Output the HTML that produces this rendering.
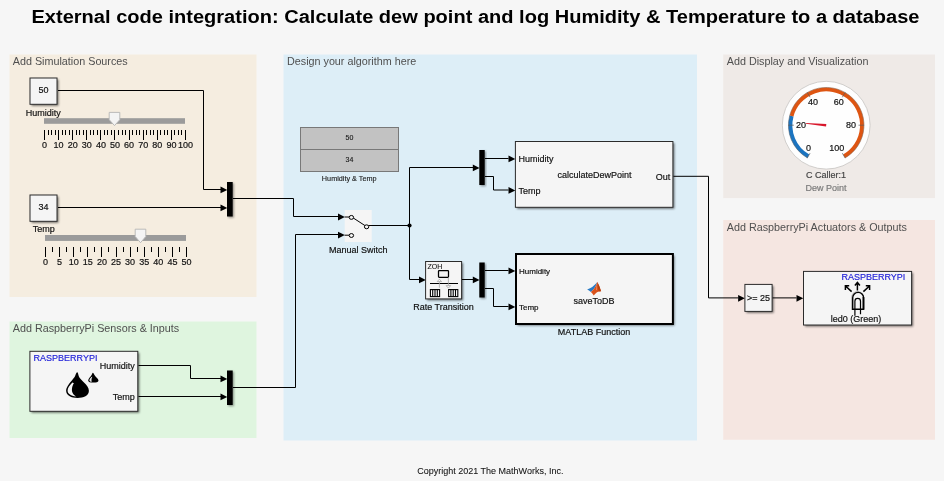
<!DOCTYPE html>
<html lang="en"><head><meta charset="utf-8"><title>External code integration</title>
<style>
html,body{margin:0;padding:0;background:#fff;}
body{width:944px;height:483px;overflow:hidden;position:relative;}
svg{position:absolute;left:0;top:0;display:block;will-change:transform;}
text{font-family:"Liberation Sans",sans-serif;}
.t9{font-size:9px;fill:#111;stroke:#111;stroke-width:0.18px;}
.t7{font-size:7px;fill:#1a1a1a;stroke:#1a1a1a;stroke-width:0.12px;}
.t8{font-size:8px;fill:#111;stroke:#111;stroke-width:0.18px;}
.area{font-size:10.78px;fill:#4f4f4f;}
.blue{font-size:9px;fill:#1c1cd8;stroke:#1c1cd8;stroke-width:0.15px;}
.ln{fill:none;stroke:#000;stroke-width:1;}
.blk{fill:#f5f5f5;stroke:#2b2b2b;stroke-width:1;}
</style></head><body>
<svg width="944" height="483" viewBox="0 0 944 483">
<defs>
<filter id="sh" x="-10%" y="-10%" width="130%" height="130%"><feGaussianBlur stdDeviation="0.9"/></filter>
</defs>
<rect x="0" y="0" width="944" height="481" fill="#f6f6f6"/>
<text x="31.5" y="23.4" font-size="18.3" font-weight="bold" fill="#000" textLength="888" lengthAdjust="spacingAndGlyphs">External code integration: Calculate dew point and log Humidity &amp; Temperature to a database</text>
<rect x="9.5" y="54.5" width="247.0" height="242.5" fill="#f5ede0"/>
<rect x="9.5" y="321.5" width="247.0" height="116.5" fill="#dff5df"/>
<rect x="283.5" y="54.5" width="413.5" height="386.0" fill="#ddeef7"/>
<rect x="723.2" y="54.5" width="211.79999999999995" height="143.6" fill="#efeae7"/>
<rect x="723.2" y="220" width="211.79999999999995" height="219.8" fill="#f5e6e1"/>
<text class="area" x="12.8" y="65">Add Simulation Sources</text>
<text class="area" x="12.8" y="332">Add RaspberryPi Sensors &amp; Inputs</text>
<text class="area" x="287" y="65">Design your algorithm here</text>
<text class="area" x="726.8" y="65">Add Display and Visualization</text>
<text class="area" x="726.8" y="230.6">Add RaspberryPi Actuators &amp; Outputs</text>
<rect x="31.5" y="79.5" width="27" height="26.299999999999997" fill="#000" opacity="0.55" filter="url(#sh)"/>
<rect x="30" y="78" width="27" height="26.299999999999997" fill="#f5f5f5" stroke="#2b2b2b" stroke-width="1"/>
<text class="t9" x="43.5" y="92.8" text-anchor="middle" >50</text>
<text class="t9" x="25.8" y="116.2" text-anchor="start" >Humidity</text>
<rect x="31.5" y="196.5" width="27" height="26.30000000000001" fill="#000" opacity="0.55" filter="url(#sh)"/>
<rect x="30" y="195" width="27" height="26.30000000000001" fill="#f5f5f5" stroke="#2b2b2b" stroke-width="1"/>
<text class="t9" x="43.5" y="209.8" text-anchor="middle" >34</text>
<text class="t9" x="32.8" y="232" text-anchor="start" >Temp</text>
<polyline class="ln" points="58,90.5 203.5,90.5 203.5,189.5 221,189.5"/>
<polygon points="220.5,186.54999999999998 227.3,189.95 220.5,193.35" fill="#000"/>
<polyline class="ln" points="58,207.5 221,207.5"/>
<polygon points="220.5,204.54999999999998 227.3,207.95 220.5,211.35" fill="#000"/>
<rect x="228.2" y="183.2" width="5.699999999999989" height="34.5" fill="#000" opacity="0.4" filter="url(#sh)"/>
<rect x="227" y="182" width="5.699999999999989" height="34.5" fill="#000"/>
<rect x="44" y="118.2" width="141" height="5.599999999999994" fill="#9b9b9b"/>
<polygon points="109.2,112.4 119.8,112.4 119.8,119.7 114.5,125.6 109.2,119.7" fill="#f4f4f4" stroke="#b4b4b4" stroke-width="0.9"/>
<path d="M44.5,130v10 M48.5,130v5 M51.5,130v5 M55.5,130v5 M58.5,130v10 M62.5,130v5 M65.5,130v5 M69.5,130v5 M72.5,130v10 M76.5,130v5 M79.5,130v5 M83.5,130v5 M86.5,130v10 M90.5,130v5 M93.5,130v5 M97.5,130v5 M100.5,130v10 M104.5,130v5 M107.5,130v5 M111.5,130v5 M114.5,130v10 M118.5,130v5 M122.5,130v5 M125.5,130v5 M129.5,130v10 M132.5,130v5 M136.5,130v5 M139.5,130v5 M143.5,130v10 M146.5,130v5 M150.5,130v5 M153.5,130v5 M157.5,130v10 M160.5,130v5 M164.5,130v5 M167.5,130v5 M171.5,130v10 M174.5,130v5 M178.5,130v5 M181.5,130v5 M185.5,130v10" stroke="#000" stroke-width="1" fill="none"/>
<text class="t9" x="44.50" y="148" text-anchor="middle" >0</text>
<text class="t9" x="58.60" y="148" text-anchor="middle" >10</text>
<text class="t9" x="72.70" y="148" text-anchor="middle" >20</text>
<text class="t9" x="86.80" y="148" text-anchor="middle" >30</text>
<text class="t9" x="100.90" y="148" text-anchor="middle" >40</text>
<text class="t9" x="115.00" y="148" text-anchor="middle" >50</text>
<text class="t9" x="129.10" y="148" text-anchor="middle" >60</text>
<text class="t9" x="143.20" y="148" text-anchor="middle" >70</text>
<text class="t9" x="157.30" y="148" text-anchor="middle" >80</text>
<text class="t9" x="171.40" y="148" text-anchor="middle" >90</text>
<text class="t9" x="185.50" y="148" text-anchor="middle" >100</text>
<rect x="45" y="235.0" width="141" height="5.900000000000006" fill="#9b9b9b"/>
<polygon points="135.2,229.2 145.8,229.2 145.8,236.5 140.5,242.70000000000002 135.2,236.5" fill="#f4f4f4" stroke="#b4b4b4" stroke-width="0.9"/>
<path d="M45.5,247v10 M52.5,247v5 M59.5,247v10 M66.5,247v5 M73.5,247v10 M80.5,247v5 M87.5,247v10 M94.5,247v5 M101.5,247v10 M108.5,247v5 M116.5,247v10 M123.5,247v5 M130.5,247v10 M137.5,247v5 M144.5,247v10 M151.5,247v5 M158.5,247v10 M165.5,247v5 M172.5,247v10 M179.5,247v5 M186.5,247v10" stroke="#000" stroke-width="1" fill="none"/>
<text class="t9" x="45.50" y="265" text-anchor="middle" >0</text>
<text class="t9" x="59.60" y="265" text-anchor="middle" >5</text>
<text class="t9" x="73.70" y="265" text-anchor="middle" >10</text>
<text class="t9" x="87.80" y="265" text-anchor="middle" >15</text>
<text class="t9" x="101.90" y="265" text-anchor="middle" >20</text>
<text class="t9" x="116.00" y="265" text-anchor="middle" >25</text>
<text class="t9" x="130.10" y="265" text-anchor="middle" >30</text>
<text class="t9" x="144.20" y="265" text-anchor="middle" >35</text>
<text class="t9" x="158.30" y="265" text-anchor="middle" >40</text>
<text class="t9" x="172.40" y="265" text-anchor="middle" >45</text>
<text class="t9" x="186.50" y="265" text-anchor="middle" >50</text>
<rect x="31.4" y="352.8" width="107.9" height="60.0" fill="#000" opacity="0.55" filter="url(#sh)"/>
<rect x="29.9" y="351.3" width="107.9" height="60.0" fill="#f5f5f5" stroke="#2b2b2b" stroke-width="1"/>
<text class="blue" x="33.6" y="360.8" text-anchor="start" >RASPBERRYPI</text>
<text class="t9" x="134.8" y="369.2" text-anchor="end" >Humidity</text>
<text class="t9" x="134.8" y="400" text-anchor="end" >Temp</text>
<path d="M77.2,372.2 C77.9,372.2 78.2,374 78.8,376.2 C80,380.2 88.9,384.6 88.9,390.8 C88.9,395.6 83.6,398 77.6,398 C71.2,398 66.1,395.6 66.1,390.6 C66.1,386.8 71.2,381.6 74.2,377.6 C75.4,376 76.2,372.2 77.2,372.2 Z" fill="#000"/>
<path d="M72.4,382.6 C69.4,385.6 67.5,388.2 67.6,390.8 C67.8,394 71,396 76,396.4 C72.6,394.6 71.6,391.6 72,388.6 C72.2,386.4 73,384.6 73.9,383.2 Z" fill="#f5f5f5"/>
<path d="M92.9,372.8 C93.5,372.8 93.8,373.8 94.3,374.8 C95.2,376.8 98.5,378.6 98.5,380.4 C98.5,382 96.2,382.6 93.4,382.6 C90.4,382.6 88.2,382 88.2,380.4 C88.2,378.8 90.4,376.8 91.6,375 C92.1,374 92.4,372.8 92.9,372.8 Z" fill="#000"/>
<path d="M91.4,377 C90.2,378.4 89.3,379.4 89.4,380.4 C89.5,381.2 90.6,381.6 91.8,381.7 C91.3,380.6 91.4,378.6 92.4,376.8 Z" fill="#e8e8e8"/>
<polyline class="ln" points="138.5,365.5 190.5,365.5 190.5,378.5 221,378.5"/>
<polygon points="220.5,375.55 227.3,378.95 220.5,382.34999999999997" fill="#000"/>
<polyline class="ln" points="138.5,396.5 221,396.5"/>
<polygon points="220.5,393.55 227.3,396.95 220.5,400.34999999999997" fill="#000"/>
<rect x="228.2" y="371.7" width="5.699999999999989" height="34.5" fill="#000" opacity="0.4" filter="url(#sh)"/>
<rect x="227" y="370.5" width="5.699999999999989" height="34.5" fill="#000"/>
<polyline class="ln" points="233,387.5 295.5,387.5 295.5,234.5 338,234.5"/>
<polygon points="338.0,231.64999999999998 344.8,235.04999999999998 338.0,238.45" fill="#000"/>
<polyline class="ln" points="233,198.5 293.5,198.5 293.5,216.5 338,216.5"/>
<polygon points="338.0,213.6 344.8,217.0 338.0,220.4" fill="#000"/>
<rect x="300.5" y="127.5" width="98" height="44" fill="#c2c2c2" stroke="#787878" stroke-width="1"/>
<line x1="300.5" y1="149.5" x2="398.5" y2="149.5" stroke="#787878" stroke-width="1"/>
<text class="t7" x="349.5" y="140" text-anchor="middle" >50</text>
<text class="t7" x="349.5" y="162" text-anchor="middle" >34</text>
<text class="t7" x="349.2" y="181.3" text-anchor="middle" style="font-size:7.25px">Humidity &amp; Temp</text>
<rect x="344.7" y="210" width="27" height="32" fill="#f5f5f5"/>
<g stroke="#000" stroke-width="1" fill="#f5f5f5"><line x1="344.5" y1="217" x2="349" y2="217"/><line x1="344.5" y1="235.2" x2="349" y2="235.2"/><line x1="353" y1="217.8" x2="365" y2="225.6"/><ellipse cx="351.4" cy="217.4" rx="2.2" ry="1.95"/><ellipse cx="351.4" cy="235.5" rx="2.2" ry="1.95"/><ellipse cx="366.6" cy="226.8" rx="2.2" ry="1.95"/></g>
<text class="t9" x="358.2" y="252.8" text-anchor="middle" >Manual Switch</text>
<polyline class="ln" points="368.5,225.5 409.5,225.5"/>
<circle cx="409.5" cy="225.5" r="2.1" fill="#000"/>
<polyline class="ln" points="409.5,225.5 409.5,167.5 473,167.5"/>
<polygon points="472.8,164.54999999999998 479.6,167.95 472.8,171.35" fill="#000"/>
<polyline class="ln" points="409.5,225.5 409.5,279.5 419,279.5"/>
<polygon points="419.0,276.55 425.8,279.95 419.0,283.34999999999997" fill="#000"/>
<rect x="427.1" y="263.0" width="36.0" height="37.39999999999998" fill="#000" opacity="0.55" filter="url(#sh)"/>
<rect x="425.6" y="261.5" width="36.0" height="37.39999999999998" fill="#f5f5f5" stroke="#2b2b2b" stroke-width="1"/>
<text class="t7" x="427.5" y="269" text-anchor="start" >ZOH</text>
<rect x="438.5" y="270.6" width="10" height="6.7" rx="0.7" fill="none" stroke="#000" stroke-width="1.25"/>
<line x1="430" y1="283.5" x2="458" y2="283.5" stroke="#000" stroke-width="1"/>
<g stroke="#a8a8a8" stroke-width="0.8" fill="#f5f5f5"><line x1="439.4" y1="281.5" x2="439.4" y2="287.8"/><polygon points="437.2,281.6 439.4,279.2 441.6,281.6"/><line x1="448.4" y1="277.6" x2="448.4" y2="285.5"/><polygon points="446.1,285.6 448.4,288.1 450.7,285.6"/></g>
<rect x="430.4" y="289.6" width="9.2" height="7" fill="#fff" stroke="#000" stroke-width="1.1"/>
<path d="M432.7,289.6v7M435.0,289.6v7M437.29999999999995,289.6v7" stroke="#000" stroke-width="1.1"/>
<rect x="448.6" y="289.6" width="9.2" height="7" fill="#fff" stroke="#000" stroke-width="1.1"/>
<path d="M450.90000000000003,289.6v7M453.20000000000005,289.6v7M455.5,289.6v7" stroke="#000" stroke-width="1.1"/>
<text class="t9" x="443.5" y="309.8" text-anchor="middle" >Rate Transition</text>
<polyline class="ln" points="462,279.5 473,279.5"/>
<polygon points="472.8,276.55 479.6,279.95 472.8,283.34999999999997" fill="#000"/>
<rect x="480.5" y="263.7" width="5.399999999999977" height="35.0" fill="#000" opacity="0.4" filter="url(#sh)"/>
<rect x="479.3" y="262.5" width="5.399999999999977" height="35.0" fill="#000"/>
<polyline class="ln" points="485,270.5 508.5,270.5"/>
<polygon points="508.5,267.55 515.3,270.95 508.5,274.34999999999997" fill="#000"/>
<polyline class="ln" points="485,288.5 493.5,288.5 493.5,306.5 508.5,306.5"/>
<polygon points="508.5,303.55 515.3,306.95 508.5,310.34999999999997" fill="#000"/>
<rect x="480.5" y="151.2" width="5.399999999999977" height="35" fill="#000" opacity="0.4" filter="url(#sh)"/>
<rect x="479.3" y="150" width="5.399999999999977" height="35" fill="#000"/>
<polyline class="ln" points="485,158.5 508.5,158.5"/>
<polygon points="508.5,155.54999999999998 515.3,158.95 508.5,162.35" fill="#000"/>
<polyline class="ln" points="485,176.5 493.5,176.5 493.5,190 508.5,190"/>
<polygon points="508.5,187.04999999999998 515.3,190.45 508.5,193.85" fill="#000"/>
<rect x="516.9" y="143.0" width="157.5" height="65.80000000000001" fill="#000" opacity="0.55" filter="url(#sh)"/>
<rect x="515.4" y="141.5" width="157.5" height="65.80000000000001" fill="#f5f5f5" stroke="#2b2b2b" stroke-width="1"/>
<text class="t9" x="518.6" y="162.2" text-anchor="start" >Humidity</text>
<text class="t9" x="518.6" y="194.4" text-anchor="start" >Temp</text>
<text class="t9" x="557.5" y="177.7" text-anchor="start" >calculateDewPoint</text>
<text class="t9" x="670.3" y="180.2" text-anchor="end" >Out</text>
<polyline class="ln" points="673.4,176.3 708.5,176.3 708.5,297.9 738,297.9"/>
<polygon points="738.1,294.95 744.9,298.34999999999997 738.1,301.74999999999994" fill="#000"/>
<rect x="517.5" y="255.5" width="156.89999999999998" height="70" fill="#000" opacity="0.55" filter="url(#sh)"/>
<rect x="516" y="254" width="156.89999999999998" height="70" fill="#f5f5f5" stroke="#000" stroke-width="2"/>
<text class="t8" x="519" y="273.8" text-anchor="start" >Humidity</text>
<text class="t8" x="519" y="309.5" text-anchor="start" >Temp</text>
<text class="t9" x="594.1" y="303.7" text-anchor="middle" >saveToDB</text>
<text class="t9" x="594" y="335.2" text-anchor="middle" >MATLAB Function</text>
<path d="M587.1,289.6 Q593.2,287.4 597.3,282 Q595.4,288.4 590.9,292 Q589,290.4 587.1,289.6 Z" fill="#2a7bc6"/>
<path d="M597.3,282 Q599.4,285.6 601.1,291.2 Q597.2,290.8 593.7,295.4 Q592.4,293.2 590.9,292 Q595.4,288.4 597.3,282 Z" fill="#d9531c"/>
<path d="M597.3,282 Q597.5,287 598.7,291.4 Q599.9,291 601.1,291.2 Q599.4,285.6 597.3,282 Z" fill="#b8400f"/>
<path d="M597.2,282.6 Q596.4,286.6 596.3,290.2 L597,290 Q597,286.4 597.2,282.6 Z" fill="#f0a080"/>
<rect x="746.4" y="285.9" width="27.200000000000045" height="27.0" fill="#000" opacity="0.55" filter="url(#sh)"/>
<rect x="744.9" y="284.4" width="27.200000000000045" height="27.0" fill="#f5f5f5" stroke="#2b2b2b" stroke-width="1"/>
<text class="t9" x="758.5" y="301.3" text-anchor="middle" >&gt;= 25</text>
<polyline class="ln" points="772.6,297.9 796.5,297.9"/>
<polygon points="796.5,294.95 803.3,298.34999999999997 796.5,301.74999999999994" fill="#000"/>
<rect x="805.0" y="272.9" width="108.10000000000002" height="53.60000000000002" fill="#000" opacity="0.55" filter="url(#sh)"/>
<rect x="803.5" y="271.4" width="108.10000000000002" height="53.60000000000002" fill="#f5f5f5" stroke="#2b2b2b" stroke-width="1"/>
<text class="blue" x="841.5" y="280" text-anchor="start" >RASPBERRYPI</text>
<text class="t9" x="856" y="322" text-anchor="middle" >led0 (Green)</text>
<path d="M851.7,309.3 V297.6 A5.9,5.9 0 0 1 863.5,297.6 V309.3 Z" fill="none" stroke="#b8b8b8" stroke-width="1.2"/>
<path d="M852.7,309.3 V297.8 A5.45,5.45 0 0 1 863.6,297.8 V309.3 Z" fill="#f5f5f5" stroke="#000" stroke-width="1.4"/>
<path d="M863.4,297 V309.3" fill="none" stroke="#000" stroke-width="1.7"/>
<path d="M854.9,315.8 V301.2 A2.8,2.8 0 0 1 860.5,301.2 V314.2" fill="none" stroke="#000" stroke-width="1.2"/>
<g stroke="#000" stroke-width="1.5" fill="none" stroke-linejoin="miter"><path d="M857.4,290.4V282.8M854.9,285.4L857.4,282.4L859.9,285.4"/><path d="M851.6,291.6L845.8,286.2M845.4,290L845.4,285.8L849.2,285.8"/><path d="M863.4,291.6L869.2,286.2M869.6,290L869.6,285.8L865.8,285.8"/></g>
<circle cx="826.2" cy="125.2" r="43.9" fill="#fefefe" stroke="#c6c4c2" stroke-width="0.8"/>
<path d="M808.30,156.20 A35.8,35.8 0 0 1 791.62,115.93" fill="none" stroke="#1b74c0" stroke-width="3.9"/>
<path d="M791.62,115.93 A35.8,35.8 0 1 1 844.10,156.20" fill="none" stroke="#de5512" stroke-width="3.9"/>
<path d="M807.33,157.89 A37.75,37.75 0 0 1 789.74,115.43" fill="none" stroke="#5a6670" stroke-width="0.6"/>
<path d="M789.74,115.43 A37.75,37.75 0 1 1 845.08,157.89" fill="none" stroke="#8a6a58" stroke-width="0.6"/>
<line x1="810.05" y1="153.17" x2="807.20" y2="158.11" stroke="#5c5c5c" stroke-width="0.7"/>
<line x1="793.90" y1="125.20" x2="788.20" y2="125.20" stroke="#5c5c5c" stroke-width="0.7"/>
<line x1="810.05" y1="97.23" x2="807.20" y2="92.29" stroke="#5c5c5c" stroke-width="0.7"/>
<line x1="842.35" y1="97.23" x2="845.20" y2="92.29" stroke="#5c5c5c" stroke-width="0.7"/>
<line x1="858.50" y1="125.20" x2="864.20" y2="125.20" stroke="#5c5c5c" stroke-width="0.7"/>
<line x1="842.35" y1="153.17" x2="845.20" y2="158.11" stroke="#5c5c5c" stroke-width="0.7"/>
<text class="t9" x="808.5" y="151.0" text-anchor="middle" >0</text>
<text class="t9" x="801" y="128.29999999999998" text-anchor="middle" >20</text>
<text class="t9" x="812.9" y="105.10000000000001" text-anchor="middle" >40</text>
<text class="t9" x="838.7" y="105.10000000000001" text-anchor="middle" >60</text>
<text class="t9" x="851" y="128.29999999999998" text-anchor="middle" >80</text>
<text class="t9" x="836.7" y="151.0" text-anchor="middle" >100</text>
<polygon points="826.32,123.91 806.02,122.94 805.96,123.64 826.08,126.49" fill="#d8172b"/>
<text class="t9" x="826" y="177.8" text-anchor="middle" style="fill:#444;stroke:#444">C Caller:1</text>
<text class="t9" x="826" y="190.9" text-anchor="middle" style="fill:#7a7a7a;stroke:#7a7a7a">Dew Point</text>
<text class="t9" x="490.3" y="474.1" text-anchor="middle" style="stroke-width:0.06px">Copyright 2021 The MathWorks, Inc.</text>
</svg></body></html>
